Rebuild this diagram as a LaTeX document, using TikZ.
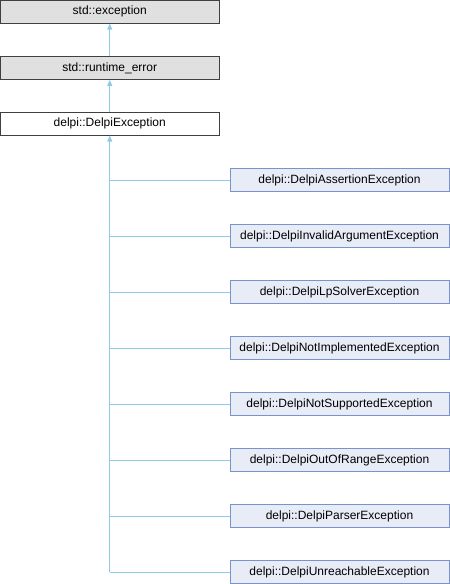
\documentclass[tikz,border=0pt]{standalone}
\usepackage{fontspec}
\setmainfont{Liberation Sans}
\usetikzlibrary{arrows.meta}
\definecolor{edgeblue}{HTML}{8FC8EA}
\definecolor{childfill}{HTML}{E8ECF6}
\definecolor{childdraw}{HTML}{7B93CB}
\definecolor{greyfill}{HTML}{E0E0E0}
\definecolor{greydraw}{HTML}{404040}
\tikzset{
  base/.style={minimum height=23pt, inner sep=0pt, font=\fontsize{12}{14}\selectfont, line width=0.8pt},
  stdbox/.style={base, draw=greydraw, fill=greyfill, minimum width=219pt},
  curbox/.style={base, draw=greydraw, fill=white, minimum width=219pt},
  childbox/.style={base, draw=childdraw, fill=childfill, minimum width=219pt},
  edge/.style={draw=edgeblue, line width=0.9pt},
  inh/.style={edge, -{Triangle[width=5pt,length=6pt]}}
}
\begin{document}
\begin{tikzpicture}[x=1pt,y=-1pt]
\useasboundingbox (0,0) rectangle (450,584);
\node[stdbox] (exc) at (109.75,11.75) {std::exception};
\node[stdbox] (rt) at (109.75,68) {std::runtime\_error};
\node[curbox] (de) at (109.75,123.75) {delpi::DelpiException};
\node[childbox] (c1) at (339.5,180) {delpi::DelpiAssertionException};
\node[childbox] (c2) at (339.5,236) {delpi::DelpiInvalidArgumentException};
\node[childbox] (c3) at (339.5,292) {delpi::DelpiLpSolverException};
\node[childbox] (c4) at (339.5,348) {delpi::DelpiNotImplementedException};
\node[childbox] (c5) at (339.5,404) {delpi::DelpiNotSupportedException};
\node[childbox] (c6) at (339.5,460) {delpi::DelpiOutOfRangeException};
\node[childbox] (c7) at (339.5,516) {delpi::DelpiParserException};
\node[childbox] (c8) at (339.5,572) {delpi::DelpiUnreachableException};
\draw[inh] (rt.north) -- (exc.south);
\draw[inh] (de.north) -- (rt.south);
\coordinate (bot) at (de.south |- c8.west);
\draw[inh] (bot) -- (de.south);
\foreach \c in {c1,c2,c3,c4,c5,c6,c7,c8}{
  \draw[edge] (de.south |- \c.west) -- (\c.west);
}
\end{tikzpicture}
\end{document}
